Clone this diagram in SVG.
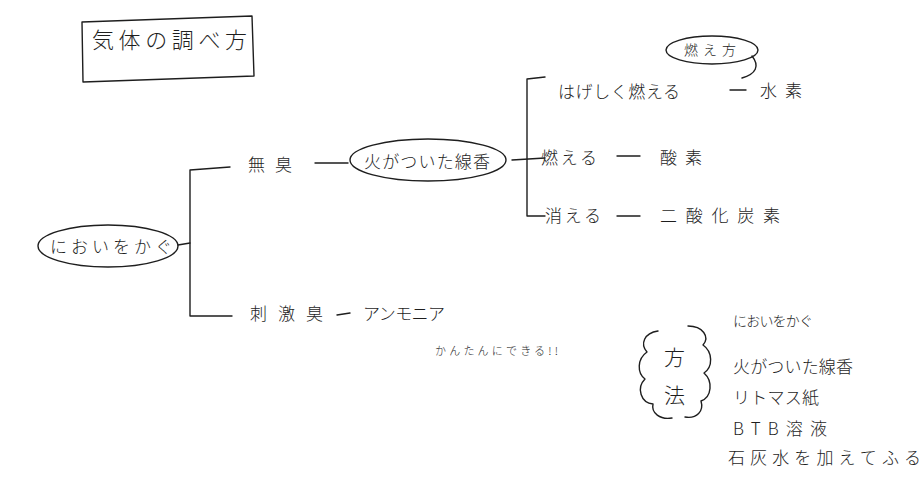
<svg xmlns="http://www.w3.org/2000/svg" width="924" height="497" viewBox="0 0 924 497">
<style>
text{font-family:"Noto Sans CJK JP","Noto Sans",sans-serif;fill:#1e1e1e;font-weight:300;dominant-baseline:central}
.ln{fill:none;stroke:#1e1e1e;stroke-width:1.4;stroke-linecap:round;stroke-linejoin:round}
.m{font-size:17px}
.s{font-size:11px}
</style>
<rect width="924" height="497" fill="#ffffff"/>
<g id="title">
<path class="ln" d="M82,22 L252,16 L254,76 L83,82 Z"/>
<text x="92" y="38" font-size="22" textLength="155" lengthAdjust="spacing">気体の調べ方</text>
</g>
<g id="connectors">
<path class="ln" d="M178,245 L190,243"/>
<path class="ln" d="M230,167 L190,170 L190,316 L232,316"/>
<path class="ln" d="M315,163 L348,163"/>
<path class="ln" d="M545,77 L527,79 L527,216 L545,216"/>
<path class="ln" d="M512,160 L545,158"/>
<path class="ln" d="M730,90 L746,90"/>
<path class="ln" d="M617,156 L640,156"/>
<path class="ln" d="M617,216 L640,216"/>
<path class="ln" d="M337,315 L350,313"/>
<path class="ln" d="M752,56 C760,66 756,74 742,78"/>
</g>
<g id="niowo">
<ellipse class="ln" cx="108" cy="246" rx="70" ry="21"/>
<text x="50" y="245" class="m" textLength="122" lengthAdjust="spacing">においをかぐ</text>
</g>
<g id="mushu">
<text x="248" y="163" class="m" textLength="44" lengthAdjust="spacing">無臭</text>
</g>
<g id="senkou">
<ellipse class="ln" cx="428" cy="160" rx="78" ry="21"/>
<text x="364" y="160" class="m" textLength="126" lengthAdjust="spacing">火がついた線香</text>
</g>
<g id="moekata">
<ellipse class="ln" cx="712" cy="50" rx="46" ry="14"/>
<text x="684" y="49" font-size="14" textLength="52" lengthAdjust="spacing">燃え方</text>
</g>
<g id="hageshiku">
<text x="558" y="90" class="m" textLength="122" lengthAdjust="spacing">はげしく燃える</text>
</g>
<g id="suiso">
<text x="760" y="89" class="m" textLength="42" lengthAdjust="spacing">水素</text>
</g>
<g id="moeru">
<text x="541" y="156" class="m" textLength="56" lengthAdjust="spacing">燃える</text>
</g>
<g id="sanso">
<text x="660" y="156" class="m" textLength="42" lengthAdjust="spacing">酸素</text>
</g>
<g id="kieru">
<text x="545" y="214" class="m" textLength="56" lengthAdjust="spacing">消える</text>
</g>
<g id="nisanka">
<text x="660" y="214" class="m" textLength="120" lengthAdjust="spacing">二酸化炭素</text>
</g>
<g id="shigeki">
<text x="250" y="312" class="m" textLength="73" lengthAdjust="spacing">刺激臭</text>
</g>
<g id="ammonia">
<text x="363" y="312" class="m" textLength="82" lengthAdjust="spacing">アンモニア</text>
</g>
<g id="kantan">
<text x="435" y="350" class="s" textLength="123" lengthAdjust="spacing">かんたんにできる!!</text>
</g>
<g id="houhou">
<path class="ln" d="M658,331 C644,333 640,344 647,352 C637,359 637,373 645,379 C636,388 641,403 653,404 C651,413 660,420 672,418"/>
<path class="ln" d="M688,326 C703,326 710,337 703,345 C713,352 713,367 704,373 C713,381 712,397 701,401 C704,411 697,419 685,417"/>
<text x="664" y="356" font-size="21">方</text>
<text x="664" y="394" font-size="21">法</text>
</g>
<g id="list">
<text x="733" y="320" font-size="14" textLength="80" lengthAdjust="spacing">においをかぐ</text>
<text x="733" y="365" class="m" textLength="120" lengthAdjust="spacing">火がついた線香</text>
<text x="733" y="396" class="m" textLength="86" lengthAdjust="spacing">リトマス紙</text>
<text x="733" y="427" class="m" textLength="94" lengthAdjust="spacing">BTB溶液</text>
<text x="728" y="456" class="m" textLength="193" lengthAdjust="spacing">石灰水を加えてふる</text>
</g>
</svg>
